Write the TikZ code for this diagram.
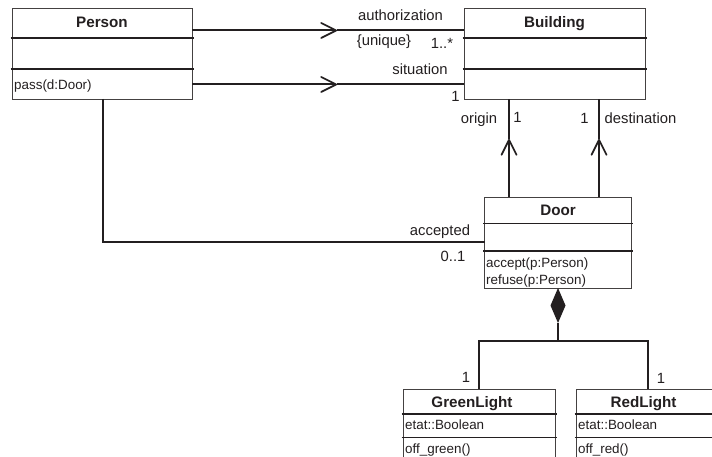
\documentclass[tikz,border=0pt]{standalone}
\usepackage{fontspec}
\setmainfont{Liberation Sans}
\usetikzlibrary{arrows.meta,calc}
\definecolor{ink}{HTML}{231F20}
\tikzset{
  x=1pt,y=-1pt,
  box/.style={draw=ink!85,line width=0.9pt,rectangle,minimum height=#1,inner sep=0pt,outer sep=0pt,anchor=north west},
  title/.style={font=\fontsize{15.2}{16}\selectfont\bfseries,text=ink,inner sep=0pt,anchor=base},
  txt/.style={font=\fontsize{13.4}{14}\selectfont,text=ink,inner sep=0pt},
  lft/.style={txt,anchor=base west},
  mid/.style={font=\fontsize{14.8}{16}\selectfont,text=ink,inner sep=0pt,anchor=base},
  sect/.style={draw=ink,line width=1.5pt},
  conn/.style={draw=ink,line width=2pt},
  openhead/.style={conn,-{Straight Barb[length=15pt,width=15pt,line width=1.7pt,round]}},
}
\newcommand{\umlsep}[2]{\coordinate (tmpsep) at (0,#2);\draw[sect] ($(#1.west |- tmpsep)+(-1.5,0)$) -- ($(#1.east |- tmpsep)+(1.5,0)$);}
\begin{document}
\begin{tikzpicture}
\useasboundingbox (0,0) rectangle (712,457);
\fill[white] (0,0) rectangle (712,457);
\begin{scope}
\clip (0,0) rectangle (712,457);
% classes
\node[box=91pt,minimum width=180pt] (person) at (12,8) {};
\node[box=91pt,minimum width=181pt] (building) at (464,8) {};
\node[box=91pt,minimum width=147pt] (door) at (484.5,197) {};
\node[box=76pt,minimum width=152pt] (green) at (403,389) {};
\node[box=76pt,minimum width=152pt] (red) at (576,389) {};
\umlsep{person}{38}\umlsep{person}{69}
\umlsep{building}{38}\umlsep{building}{69}
\umlsep{door}{223.5}\umlsep{door}{251}
\umlsep{green}{414}\umlsep{green}{437.5}
\umlsep{red}{414}\umlsep{red}{437.5}
% connectors
\coordinate (ah1) at (337,30.5);
\coordinate (ah2) at (337,84.5);
\coordinate (ah3) at (509,139);
\coordinate (ah4) at (599,139);
\coordinate (bend) at (102.5,242);
\coordinate (dtip) at (558,288);
\coordinate (junc) at (558,340.5);
\coordinate (jl) at (479,340.5);
\coordinate (jr) at (648,340.5);
\draw[openhead] (person.east |- ah1) -- (ah1);
\draw[conn] (ah1) -- (building.west |- ah1);
\draw[openhead] (person.east |- ah2) -- (ah2);
\draw[conn] (ah2) -- (building.west |- ah2);
\draw[openhead] (door.north -| ah3) -- (ah3);
\draw[conn] (ah3) -- (building.south -| ah3);
\draw[openhead] (door.north -| ah4) -- (ah4);
\draw[conn] (ah4) -- (building.south -| ah4);
\draw[conn] (person.south -| bend) -- (bend) -- (door.west |- bend);
\draw[conn] (junc) -- ($(dtip)+(0,35)$);
\draw[conn,line join=miter] (green.north -| jl) -- (jl) -- (jr) -- (red.north -| jr);
\fill[ink] (dtip) -- ++(7.5,17.5) -- ++(-7.5,17.5) -- ++(-7.5,-17.5) -- cycle;
\end{scope}
% texts
\node[title] (t1) at (102,28) {Person};
\node[title] (t2) at (554.5,28) {Building};
\node[title] (t3) at (558,215) {Door};
\node[title] (t4) at (472,407) {GreenLight};
\node[title] (t5) at (643.5,407) {RedLight};
\node[lft] (m1) at (14,90) {pass(d:Door)};
\node[lft] (m2) at (486,267) {accept(p:Person)};
\node[lft] (m3) at (486,284) {refuse(p:Person)};
\node[lft] (a1) at (405,429) {etat::Boolean};
\node[lft] (a2) at (578,429) {etat::Boolean};
\node[lft] (m4) at (405,453) {off\_green()};
\node[lft] (m5) at (578,453) {off\_red()};
\node[mid] (l1) at (400.5,21) {authorization};
\node[mid] (l2) at (384,46) {\{unique\}};
\node[mid] (l3) at (442,49) {1..*};
\node[mid] (l4) at (420,75) {situation};
\node[mid] (l5) at (455.5,102) {1};
\node[mid] (l6) at (479,124) {origin};
\node[mid] (l7) at (517.5,123) {1};
\node[mid] (l8) at (584.5,124) {1};
\node[mid] (l9) at (640.5,124) {destination};
\node[mid] (l10) at (440,236) {accepted};
\node[mid] (l11) at (453,261) {0..1};
\node[mid] (l12) at (466,382) {1};
\node[mid] (l13) at (661,383) {1};
\end{tikzpicture}
\end{document}
